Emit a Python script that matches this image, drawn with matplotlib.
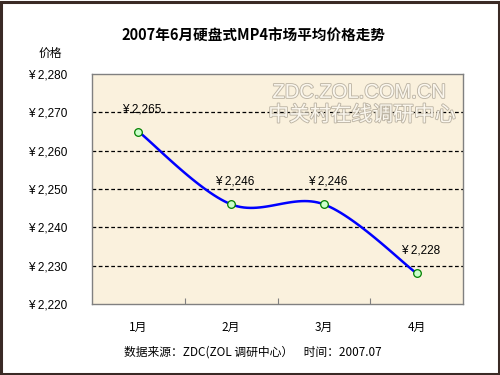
import numpy as np
import matplotlib
matplotlib.use("Agg")
import matplotlib.pyplot as plt
import matplotlib.ticker as ticker
import matplotlib.patheffects as pe
from matplotlib.patches import Rectangle

plt.rcParams['font.family'] = ['Noto Sans CJK SC', 'DejaVu Sans']

months = ['1月', '2月', '3月', '4月']
prices = [2265, 2246, 2246, 2228]
yticks = [2220, 2230, 2240, 2250, 2260, 2270, 2280]

def smooth(xs, ys, n=30):
    # excel-like smoothed line: cubic bezier between points
    xs = np.asarray(xs, float)
    ys = np.asarray(ys, float)
    px, py = [], []
    for i in range(len(xs) - 1):
        x0, y0 = xs[max(i - 1, 0)], ys[max(i - 1, 0)]
        x1, y1 = xs[i], ys[i]
        x2, y2 = xs[i + 1], ys[i + 1]
        x3, y3 = xs[min(i + 2, len(xs) - 1)], ys[min(i + 2, len(ys) - 1)]
        c1 = (x1 + (x2 - x0) / 6, y1 + (y2 - y0) / 6)
        c2 = (x2 - (x3 - x1) / 6, y2 - (y3 - y1) / 6)
        t = np.linspace(0, 1, n)
        px.append((1-t)**3*x1 + 3*(1-t)**2*t*c1[0] + 3*(1-t)*t**2*c2[0] + t**3*x2)
        py.append((1-t)**3*y1 + 3*(1-t)**2*t*c1[1] + 3*(1-t)*t**2*c2[1] + t**3*y2)
    return np.concatenate(px), np.concatenate(py)

fig = plt.figure(figsize=(5, 3.75), dpi=100)
fig.patches.append(Rectangle((0.002, 0.003), 0.995, 0.993, transform=fig.transFigure,
                             fill=False, edgecolor='#3a2a25', linewidth=2.2))

ax = fig.add_axes([92/500, 1 - 304/375, 371/500, 230/375])
ax.set_facecolor('#faf1dd')
for s in ax.spines.values():
    s.set_color('#808080')
    s.set_linewidth(1)

x = np.arange(len(months)) + 0.5
ax.set_xlim(0, 4)
ax.set_ylim(2220, 2280)
ax.set_yticks(yticks)
ax.yaxis.set_major_formatter(ticker.FuncFormatter(lambda v, p: '¥ {:,.0f}'.format(v)))
ax.set_xticks([1, 2, 3])
ax.set_xticklabels([])
ax.set_xticks(x, minor=True)
ax.set_xticklabels(months, minor=True)
ax.tick_params(axis='x', which='major', direction='in', length=4, color='#808080')
ax.tick_params(axis='x', which='minor', length=0, pad=12, labelsize=8.5)
ax.tick_params(axis='y', length=0, pad=18, labelsize=8.5)
for t in ax.get_yticklabels():
    t.set_family(['Liberation Sans', 'DejaVu Sans'])

for v in yticks[1:-1]:
    ax.axhline(v, color='black', linestyle=(0, (3, 2)), linewidth=0.9, zorder=1)

wm = [pe.withStroke(linewidth=1.3, foreground='#bdb5a5')]
ax.text(0.72, 0.92, 'ZDC.ZOL.COM.CN', transform=ax.transAxes, ha='center', va='center',
        fontsize=14.5, color='#fbf7ee', zorder=1, family=['Liberation Sans', 'DejaVu Sans'],
        path_effects=wm)
ax.text(0.728, 0.822, '中关村在线调研中心', transform=ax.transAxes, ha='center', va='center',
        fontsize=15, color='#fbf7ee', zorder=1, path_effects=wm)

sx, sy = smooth(x, prices)
ax.plot(sx, sy, color='#0000ff', linewidth=1.8, zorder=3)
ax.plot(x, prices, linestyle='none', marker='o', markersize=5.5,
        markerfacecolor='#ccffcc', markeredgecolor='#008000', markeredgewidth=0.9, zorder=4)
for xi, yi in zip(x, prices):
    ax.text(xi + 0.04, yi + 4.3, '¥ {:,}'.format(yi), ha='center', va='bottom', fontsize=8.5,
            family=['Liberation Sans', 'DejaVu Sans'], zorder=5)

fig.text(253/500, 1 - 36/375, '2007年6月硬盘式MP4市场平均价格走势', ha='center', va='center',
         fontsize=10.5, fontweight='bold')
fig.text(50/500, 1 - 53/375, '价格', ha='center', va='center', fontsize=8.5)
fig.text(253/500, 1 - 352/375, '数据来源：ZDC(ZOL 调研中心）    时间：2007.07', ha='center', va='center',
         fontsize=8.5)

fig.savefig('out.png', dpi=100, facecolor='white')
